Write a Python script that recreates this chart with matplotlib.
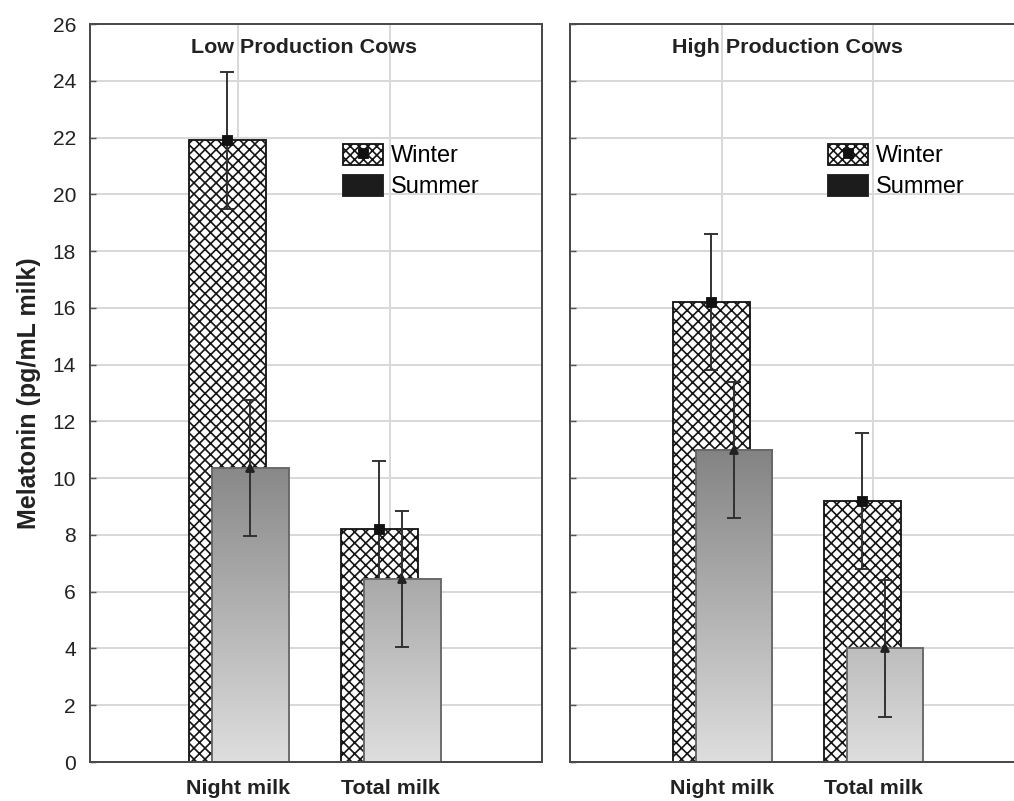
import numpy as np
import matplotlib
matplotlib.use("Agg")
import matplotlib.pyplot as plt
from matplotlib.colors import LinearSegmentedColormap, Normalize
from matplotlib.patches import Patch
from matplotlib.lines import Line2D

# ---------------- data ----------------
categories = ["Night milk", "Total milk"]
panels = ["Low Production Cows", "High Production Cows"]
series = ["Winter", "Summer"]

low_winter_mean = [21.9, 8.2]
low_winter_err = [2.4, 2.4]
low_summer_mean = [10.35, 6.45]
low_summer_err = [2.4, 2.4]

high_winter_mean = [16.2, 9.2]
high_winter_err = [2.4, 2.4]
high_summer_mean = [11.0, 4.0]
high_summer_err = [2.4, 2.4]

yticks = list(range(0, 27, 2))
ylabel = "Melatonin (pg/mL milk)"

# ---------------- style ----------------
DPI = 133
W, H = 1014, 801
plt.rcParams['font.family'] = ['Liberation Sans', 'DejaVu Sans']
plt.rcParams['hatch.linewidth'] = 0.9

fig = plt.figure(figsize=(W / DPI, H / DPI), dpi=DPI)

def px(v):
    return v * 72.0 / DPI

ax_h = (762 - 24) / H
ax_b = (H - 762) / H
axL = fig.add_axes([90 / W, ax_b, 452 / W, ax_h])
axR = fig.add_axes([570 / W, ax_b, 452 / W, ax_h])

grad_cmap = LinearSegmentedColormap.from_list("g", [(0.87, 0.87, 0.87), (0.45, 0.45, 0.45)])
grad_norm = Normalize(0, 13)

bw = 0.505
off_w = -0.07
off_s = 0.08
ecol = '#2e2e2e'
HATCH = 'xxxx'

def draw_panel(ax, title, wm, we, sm, se, xlim, title_x, leg_x, show_ylabels):
    x = np.arange(len(categories))
    xw = x + off_w
    xs = x + off_s
    # winter bars (hatched)
    ax.bar(xw, wm, width=bw, facecolor='white', edgecolor='#151515',
           hatch=HATCH, linewidth=1.0, zorder=2)
    ax.errorbar(xw, wm, yerr=we, fmt='s', color='#111111', ms=px(9),
                ecolor=ecol, elinewidth=px(1.9), capsize=px(7), capthick=px(1.9), zorder=3)
    # summer bars (gradient)
    for xi, h in zip(xs, sm):
        vals = np.linspace(0, h, 256)[:, None]
        ax.imshow(vals, origin='lower', extent=(xi - bw / 2, xi + bw / 2, 0, h),
                  cmap=grad_cmap, norm=grad_norm, aspect='auto', zorder=4,
                  interpolation='bilinear')
    ax.bar(xs, sm, width=bw, fill=False, edgecolor='#666666', linewidth=1.0, zorder=5)
    ax.errorbar(xs, sm, yerr=se, fmt='^', color='#222222', ms=px(8),
                ecolor=ecol, elinewidth=px(1.9), capsize=px(7), capthick=px(1.9), zorder=6)

    ax.set_xlim(*xlim)
    ax.set_ylim(0, 26)
    ax.set_yticks(yticks)
    ax.set_xticks(x)
    ax.set_xticklabels(categories, fontsize=px(21.5), fontweight='bold', color='#222222')
    ax.tick_params(axis='x', direction='in', length=3, pad=px(17), color='#555555')
    ax.tick_params(axis='y', direction='in', length=3, color='#555555',
                   labelsize=px(21), labelcolor='#222222', pad=px(14))
    if not show_ylabels:
        ax.tick_params(axis='y', labelleft=False)
    ax.grid(True, color='#d9d9d9', linewidth=px(2), zorder=0)
    ax.set_axisbelow(True)
    for s in ax.spines.values():
        s.set_color('#4a4a4a')
        s.set_linewidth(px(2))
        s.set_zorder(7)
    ax.text(title_x, 0.9675, title, transform=ax.transAxes, ha='center', va='center',
            fontsize=px(21.5), fontweight='bold', color='#222222', zorder=8)

    h_w = (Patch(facecolor='white', edgecolor='#151515', hatch='xxxxx', linewidth=1.0),
           Line2D([], [], marker='s', color='#111111', ls='', ms=px(9)))
    h_s = Patch(facecolor='#1c1c1c', edgecolor='#1c1c1c')
    ax.legend([h_w, h_s], series, loc='upper left', bbox_to_anchor=(leg_x, 0.838),
              frameon=False, borderaxespad=0, borderpad=0, fontsize=px(23.5),
              handlelength=1.7, handleheight=1.05, handletextpad=0.33, labelspacing=0.3)

draw_panel(axL, panels[0], low_winter_mean, low_winter_err, low_summer_mean, low_summer_err,
           (-148 / 152, -148 / 152 + 452 / 152), 0.473, 0.56, True)
draw_panel(axR, panels[1], high_winter_mean, high_winter_err, high_summer_mean, high_summer_err,
           (-152 / 151, -152 / 151 + 452 / 151), 0.482, 0.571, False)

axL.set_ylabel(ylabel, fontsize=px(25), fontweight='bold', color='#222222', labelpad=px(12))

fig.savefig("out.png", dpi=DPI)
